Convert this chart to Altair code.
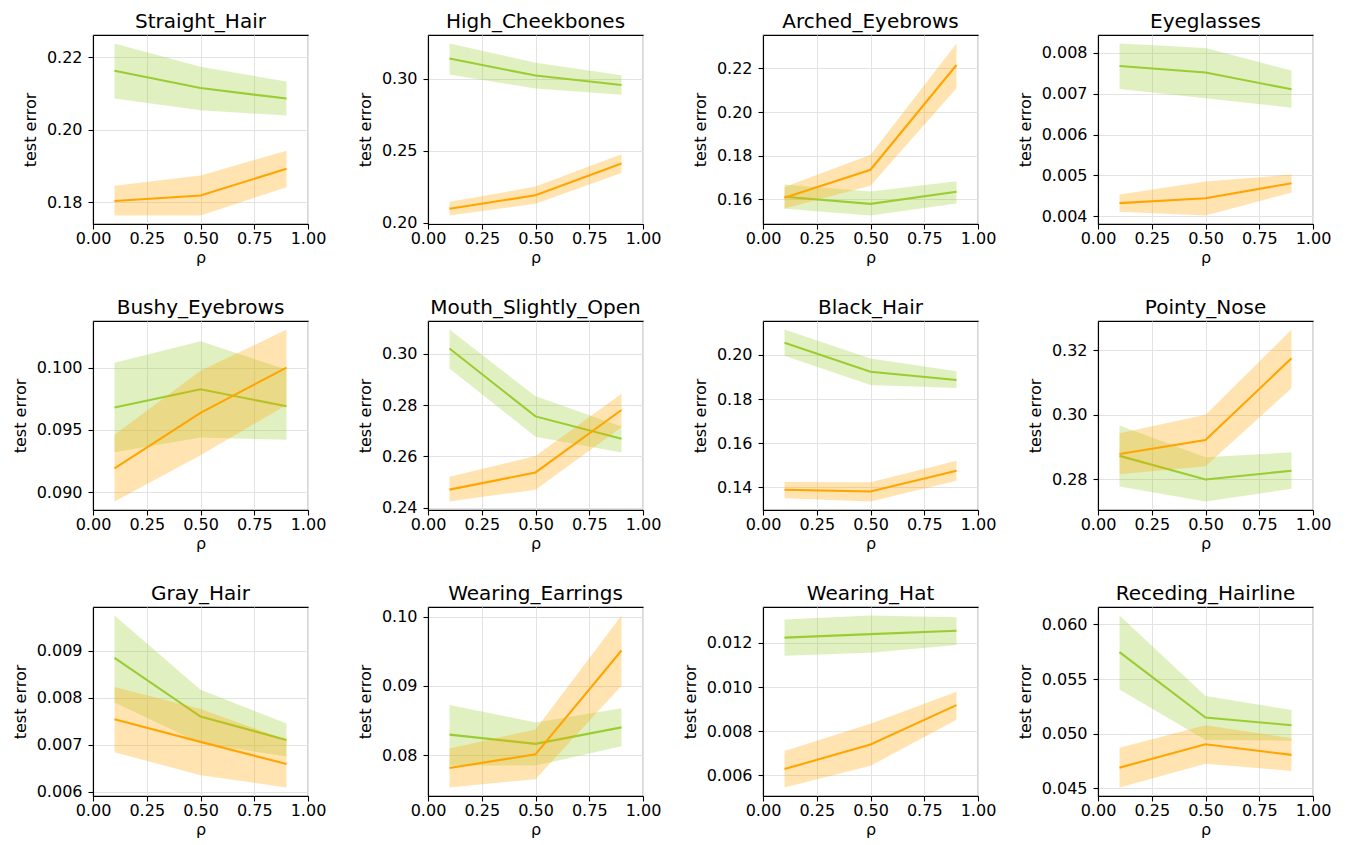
import altair as alt
import pandas as pd

rho = [0.1, 0.5, 0.9]
x_ticks = [0.0, 0.25, 0.5, 0.75, 1.0]

attributes = [
    "Straight_Hair", "High_Cheekbones", "Arched_Eyebrows", "Eyeglasses",
    "Bushy_Eyebrows", "Mouth_Slightly_Open", "Black_Hair", "Pointy_Nose",
    "Gray_Hair", "Wearing_Earrings", "Wearing_Hat", "Receding_Hairline",
]

green_mean = [
    [0.2163, 0.2115, 0.2086],
    [0.3140, 0.3021, 0.2956],
    [0.1612, 0.1580, 0.1635],
    [0.00768, 0.00752, 0.00711],
    [0.09679, 0.09826, 0.09689],
    [0.3021, 0.2756, 0.2669],
    [0.2055, 0.1924, 0.1887],
    [0.2873, 0.2800, 0.2827],
    [0.00885, 0.00760, 0.00710],
    [0.08295, 0.08162, 0.08400],
    [0.01224, 0.01240, 0.01255],
    [0.05747, 0.05148, 0.05078],
]
green_lo = [
    [0.2086, 0.2054, 0.2039],
    [0.3028, 0.2931, 0.2888],
    [0.1558, 0.1527, 0.1582],
    [0.00712, 0.00689, 0.00666],
    [0.09321, 0.09439, 0.09421],
    [0.2943, 0.2677, 0.2615],
    [0.1997, 0.1864, 0.1850],
    [0.2778, 0.2732, 0.2771],
    [0.00790, 0.00703, 0.00675],
    [0.07848, 0.07848, 0.08129],
    [0.01142, 0.01155, 0.01191],
    [0.05404, 0.04943, 0.04937],
]
green_hi = [
    [0.2238, 0.2174, 0.2133],
    [0.3243, 0.3110, 0.3023],
    [0.1668, 0.1636, 0.1683],
    [0.00823, 0.00812, 0.00757],
    [0.10039, 0.10211, 0.09984],
    [0.3095, 0.2835, 0.2717],
    [0.2115, 0.1984, 0.1926],
    [0.2967, 0.2869, 0.2884],
    [0.00975, 0.00817, 0.00745],
    [0.08724, 0.08471, 0.08676],
    [0.01306, 0.01324, 0.01316],
    [0.06081, 0.05346, 0.05217],
]
orange_mean = [
    [0.1803, 0.1818, 0.1892],
    [0.2096, 0.2190, 0.2411],
    [0.1608, 0.1736, 0.2215],
    [0.00432, 0.00444, 0.00481],
    [0.09192, 0.09637, 0.10000],
    [0.2470, 0.2537, 0.2781],
    [0.1390, 0.1382, 0.1476],
    [0.2879, 0.2922, 0.3175],
    [0.00754, 0.00706, 0.00659],
    [0.07814, 0.08010, 0.09510],
    [0.00628, 0.00740, 0.00918],
    [0.04690, 0.04904, 0.04807],
]
orange_lo = [
    [0.1763, 0.1763, 0.1841],
    [0.2050, 0.2131, 0.2344],
    [0.1559, 0.1663, 0.2109],
    [0.00411, 0.00402, 0.00458],
    [0.08926, 0.09297, 0.09700],
    [0.2424, 0.2470, 0.2714],
    [0.1351, 0.1337, 0.1430],
    [0.2816, 0.2841, 0.3082],
    [0.00684, 0.00635, 0.00609],
    [0.07533, 0.07652, 0.09000],
    [0.00545, 0.00643, 0.00852],
    [0.04509, 0.04726, 0.04660],
]
orange_hi = [
    [0.1845, 0.1873, 0.1942],
    [0.2144, 0.2250, 0.2475],
    [0.1657, 0.1805, 0.2313],
    [0.00453, 0.00485, 0.00502],
    [0.09461, 0.09974, 0.10305],
    [0.2520, 0.2601, 0.2844],
    [0.1425, 0.1424, 0.1521],
    [0.2943, 0.3000, 0.3264],
    [0.00823, 0.00776, 0.00710],
    [0.08095, 0.08371, 0.10014],
    [0.00710, 0.00834, 0.00979],
    [0.04871, 0.05078, 0.04958],
]

y_ticks = [
    [0.18, 0.20, 0.22],
    [0.20, 0.25, 0.30],
    [0.16, 0.18, 0.20, 0.22],
    [0.004, 0.005, 0.006, 0.007, 0.008],
    [0.090, 0.095, 0.100],
    [0.24, 0.26, 0.28, 0.30],
    [0.14, 0.16, 0.18, 0.20],
    [0.28, 0.30, 0.32],
    [0.006, 0.007, 0.008, 0.009],
    [0.08, 0.09, 0.10],
    [0.006, 0.008, 0.010, 0.012],
    [0.045, 0.050, 0.055, 0.060],
]
y_formats = [".2f", ".2f", ".2f", ".3f", ".3f", ".2f", ".2f", ".2f", ".3f", ".2f", ".3f", ".3f"]

GREEN = "#9acd32"
ORANGE = "#ffa500"


def make_panel(i):
    recs = []
    for s, m, lo, hi in [
        ("green", green_mean[i], green_lo[i], green_hi[i]),
        ("orange", orange_mean[i], orange_lo[i], orange_hi[i]),
    ]:
        for x, a, b, c in zip(rho, m, lo, hi):
            recs.append({"rho": x, "series": s, "mean": a, "lo": b, "hi": c})
    df = pd.DataFrame(recs)
    vmin = min(min(green_lo[i]), min(orange_lo[i]))
    vmax = max(max(green_hi[i]), max(orange_hi[i]))
    pad = 0.05 * (vmax - vmin)
    ys = alt.Scale(domain=[vmin - pad, vmax + pad], nice=False, zero=False)
    xs = alt.Scale(domain=[0, 1], nice=False)
    xenc = alt.X("rho:Q", scale=xs,
                 axis=alt.Axis(values=x_ticks, format=".2f", title="ρ"))
    yaxis = alt.Axis(values=y_ticks[i], format=y_formats[i], title="test error")
    layers = []
    for s, col in [("green", GREEN), ("orange", ORANGE)]:
        base = alt.Chart(df).transform_filter(alt.datum.series == s)
        layers.append(
            base.mark_area(color=col, opacity=0.3).encode(
                x=xenc, y=alt.Y("lo:Q", scale=ys, axis=yaxis), y2="hi:Q"
            )
        )
        layers.append(
            base.mark_line(color=col, strokeWidth=2.1).encode(
                x=xenc, y=alt.Y("mean:Q", scale=ys, axis=yaxis)
            )
        )
    return alt.layer(*layers).properties(
        width=215,
        height=189,
        title=alt.TitleParams(attributes[i], fontSize=20, fontWeight="normal",
                              font="DejaVu Sans", color="black", anchor="middle",
                              offset=3),
    )


panels = [make_panel(i) for i in range(len(attributes))]

chart = (
    alt.concat(*panels, columns=4, spacing={"row": 97, "column": 120}, bounds="flush")
    .properties(padding={"left": 3, "top": 3, "right": 5, "bottom": 0})
    .configure(font="DejaVu Sans")
    .configure_axis(
        labelFont="DejaVu Sans", titleFont="DejaVu Sans",
        labelFontSize=16, titleFontSize=16, titleFontWeight="normal",
        labelColor="black", titleColor="black",
        tickColor="black", domainColor="black", tickSize=5, tickWidth=1.1,
        domainWidth=1.1, gridColor="#e3e3e3", gridWidth=1,
        labelFlush=False, labelOverlap=False,
    )
    .configure_axisY(titlePadding=8, labelPadding=6)
    .configure_axisX(titlePadding=3, labelPadding=1)
    .configure_view(stroke="black", strokeWidth=1.1)
)

chart.save("out.html", embed_options={"renderer": "svg", "actions": False})
